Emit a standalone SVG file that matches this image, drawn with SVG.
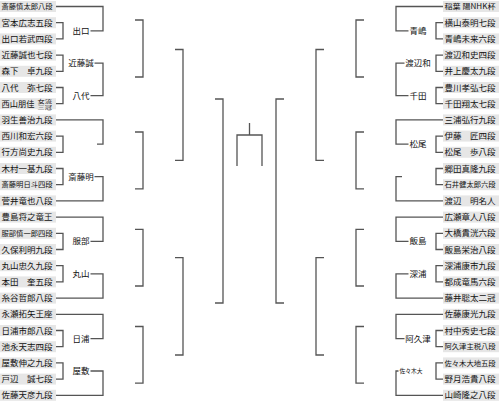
<svg xmlns="http://www.w3.org/2000/svg" width="499" height="402" viewBox="0 0 499 402">
<style>
.bx{fill:#e6e6e6}
.t{font-family:"Noto Sans CJK JP","Noto Sans CJK SC",sans-serif;font-size:8.5px;fill:#111}
.s{font-size:7.3px}
.w{text-anchor:middle}
.ln{fill:none;stroke:#555;stroke-width:1.3}
</style>
<rect width="499" height="402" fill="#fff"/>
<g id="connectors" class="ln">
<path d="M56,22.7H63V38.9H56M56,55.1H63V71.3H56M56,87.5H63V103.7H56M56,136.1H63V152.3H56M56,168.5H63V184.7H56M56,233.3H63V249.5H56M56,265.7H63V281.9H56M56,330.5H63V346.7H56M56,362.9H63V379.1H56"/>
<path d="M56,6.5H103V30.8H90.5M94.5,63.2H103V95.6H90.5M56,119.9H103V144.2H97M94.5,176.6H103V200.9H56M56,217.1H103V241.4H90.5M90.5,273.8H103V298.1H56M56,314.3H103V338.6H90.5M90.5,371H103V395.3H56"/>
<path d="M135,20H143V77H135M135,132H143V188.8H135M135,229.3H143V286H135M135,326.5H143V383.2H135"/>
<path d="M175,49.5H183V160.4H175M175,257.6H183V355H175"/>
<path d="M215,99H223V303H215"/>
<path d="M237,166V135H262V166M249.5,135V123"/>
<path d="M284,99H276V303H284"/>
<path d="M324,49.5H316V160.4H324M324,257.6H316V355H324"/>
<path d="M364,20H356V77H364M364,132H356V188.8H364M364,229.3H356V286H364M364,326.5H356V383.2H364"/>
<path d="M443,6.5H396V30.8H408.5M404.5,63.2H396V95.6H408.5M443,119.9H396V144.2H408.5M402,176.6H396V200.9H443M443,217.1H396V241.4H408.5M408.5,273.8H396V298.1H443M443,314.3H396V338.6H404.5M398.5,371H396V395.3H443"/>
<path d="M443,22.7H436V38.9H443M443,55.1H436V71.3H443M443,87.5H436V103.7H443M443,136.1H436V152.3H443M443,168.5H436V184.7H443M443,233.3H436V249.5H443M443,265.7H436V281.9H443M443,330.5H436V346.7H443M443,362.9H436V379.1H443"/>
</g>
<g id="left-players">
<g id="p-saito-s"><rect class="bx" x="0" y="1" width="56" height="11"/><text class="t s" x="1.5" y="9.1">斎藤慎太郎八段</text></g>
<g id="p-miyamoto"><rect class="bx" x="0" y="17.2" width="56" height="11"/><text class="t" x="1.5" y="25.7">宮本広志五段</text></g>
<g id="p-deguchi"><rect class="bx" x="0" y="33.4" width="56" height="11"/><text class="t" x="1.5" y="41.9">出口若武四段</text></g>
<g id="p-kondo"><rect class="bx" x="0" y="49.6" width="56" height="11"/><text class="t" x="1.5" y="58.1">近藤誠也七段</text></g>
<g id="p-morishita"><rect class="bx" x="0" y="65.8" width="56" height="11"/><text class="t" x="1.5" y="74.3">森下　卓九段</text></g>
<g id="p-yashiro"><rect class="bx" x="0" y="82" width="56" height="11"/><text class="t" x="1.5" y="90.5">八代　弥七段</text></g>
<g id="p-nishiyama"><rect class="bx" x="0" y="98.2" width="56" height="11"/><text class="t" x="1.5" y="106.7" textLength="33" lengthAdjust="spacingAndGlyphs">西山朋佳</text><text class="t" style="font-size:4.9px"><tspan x="37.5" y="102.7" textLength="14.5" lengthAdjust="spacingAndGlyphs">女流</tspan><tspan x="37.5" y="108.7" textLength="14.5" lengthAdjust="spacingAndGlyphs">三冠</tspan></text></g>
<g id="p-habu"><rect class="bx" x="0" y="114.4" width="56" height="11"/><text class="t" x="1.5" y="122.9">羽生善治九段</text></g>
<g id="p-nishikawa"><rect class="bx" x="0" y="130.6" width="56" height="11"/><text class="t" x="1.5" y="139.1">西川和宏六段</text></g>
<g id="p-namekata"><rect class="bx" x="0" y="146.8" width="56" height="11"/><text class="t" x="1.5" y="155.3">行方尚史九段</text></g>
<g id="p-kimura"><rect class="bx" x="0" y="163" width="56" height="11"/><text class="t" x="1.5" y="171.5">木村一基九段</text></g>
<g id="p-saito-a"><rect class="bx" x="0" y="179.2" width="56" height="11"/><text class="t s" x="1.5" y="187.3">斎藤明日斗四段</text></g>
<g id="p-sugai"><rect class="bx" x="0" y="195.4" width="56" height="11"/><text class="t" x="1.5" y="203.9">菅井竜也八段</text></g>
<g id="p-toyoshima"><rect class="bx" x="0" y="211.6" width="56" height="11"/><text class="t" x="1.5" y="220.1">豊島将之竜王</text></g>
<g id="p-hattori"><rect class="bx" x="0" y="227.8" width="56" height="11"/><text class="t s" x="1.5" y="235.9">服部慎一郎四段</text></g>
<g id="p-kubo"><rect class="bx" x="0" y="244" width="56" height="11"/><text class="t" x="1.5" y="252.5">久保利明九段</text></g>
<g id="p-maruyama"><rect class="bx" x="0" y="260.2" width="56" height="11"/><text class="t" x="1.5" y="268.7">丸山忠久九段</text></g>
<g id="p-honda"><rect class="bx" x="0" y="276.4" width="56" height="11"/><text class="t" x="1.5" y="284.9">本田　奎五段</text></g>
<g id="p-itodani"><rect class="bx" x="0" y="292.6" width="56" height="11"/><text class="t" x="1.5" y="301.1">糸谷哲郎八段</text></g>
<g id="p-nagase"><rect class="bx" x="0" y="308.8" width="56" height="11"/><text class="t" x="1.5" y="317.3">永瀬拓矢王座</text></g>
<g id="p-hiura"><rect class="bx" x="0" y="325" width="56" height="11"/><text class="t" x="1.5" y="333.5">日浦市郎八段</text></g>
<g id="p-ikenaga"><rect class="bx" x="0" y="341.2" width="56" height="11"/><text class="t" x="1.5" y="349.7">池永天志四段</text></g>
<g id="p-yashiki"><rect class="bx" x="0" y="357.4" width="56" height="11"/><text class="t" x="1.5" y="365.9">屋敷伸之九段</text></g>
<g id="p-tobe"><rect class="bx" x="0" y="373.6" width="56" height="11"/><text class="t" x="1.5" y="382.1">戸辺　誠七段</text></g>
<g id="p-sato-a"><rect class="bx" x="0" y="389.8" width="56" height="11"/><text class="t" x="1.5" y="398.3">佐藤天彦九段</text></g>
</g>
<g id="left-winners">
<g id="w-deguchi"><text class="t w" x="81" y="33.8">出口</text></g>
<g id="w-kondo"><text class="t w" x="81" y="66.2">近藤誠</text></g>
<g id="w-yashiro"><text class="t w" x="81" y="98.6">八代</text></g>
<g id="w-saito-a"><text class="t w" x="81" y="179.6">斎藤明</text></g>
<g id="w-hattori"><text class="t w" x="81" y="244.4">服部</text></g>
<g id="w-maruyama"><text class="t w" x="81" y="276.8">丸山</text></g>
<g id="w-hiura"><text class="t w" x="81" y="341.6">日浦</text></g>
<g id="w-yashiki"><text class="t w" x="81" y="374">屋敷</text></g>
</g>
<g id="right-players">
<g id="p-inaba"><rect class="bx" x="443" y="1" width="56" height="11"/><text class="t s" x="444.5" y="9.1" textLength="51" lengthAdjust="spacingAndGlyphs">稲葉 陽NHK杯</text></g>
<g id="p-yokoyama"><rect class="bx" x="443" y="17.2" width="56" height="11"/><text class="t" x="444.5" y="25.7">横山泰明七段</text></g>
<g id="p-aoshima"><rect class="bx" x="443" y="33.4" width="56" height="11"/><text class="t" x="444.5" y="41.9">青嶋未来六段</text></g>
<g id="p-watanabe-k"><rect class="bx" x="443" y="49.6" width="56" height="11"/><text class="t" x="444.5" y="58.1">渡辺和史四段</text></g>
<g id="p-inoue"><rect class="bx" x="443" y="65.8" width="56" height="11"/><text class="t" x="444.5" y="74.3">井上慶太九段</text></g>
<g id="p-toyokawa"><rect class="bx" x="443" y="82" width="56" height="11"/><text class="t" x="444.5" y="90.5">豊川孝弘七段</text></g>
<g id="p-senda"><rect class="bx" x="443" y="98.2" width="56" height="11"/><text class="t" x="444.5" y="106.7">千田翔太七段</text></g>
<g id="p-miura"><rect class="bx" x="443" y="114.4" width="56" height="11"/><text class="t" x="444.5" y="122.9">三浦弘行九段</text></g>
<g id="p-ito"><rect class="bx" x="443" y="130.6" width="56" height="11"/><text class="t" x="444.5" y="139.1">伊藤　匠四段</text></g>
<g id="p-matsuo"><rect class="bx" x="443" y="146.8" width="56" height="11"/><text class="t" x="444.5" y="155.3">松尾　歩八段</text></g>
<g id="p-goda"><rect class="bx" x="443" y="163" width="56" height="11"/><text class="t" x="444.5" y="171.5">郷田真隆九段</text></g>
<g id="p-ishii"><rect class="bx" x="443" y="179.2" width="56" height="11"/><text class="t s" x="444.5" y="187.3">石井健太郎六段</text></g>
<g id="p-watanabe-a"><rect class="bx" x="443" y="195.4" width="56" height="11"/><text class="t" x="444.5" y="203.9">渡辺　明名人</text></g>
<g id="p-hirose"><rect class="bx" x="443" y="211.6" width="56" height="11"/><text class="t" x="444.5" y="220.1">広瀬章人八段</text></g>
<g id="p-ohashi"><rect class="bx" x="443" y="227.8" width="56" height="11"/><text class="t" x="444.5" y="236.3">大橋貴洸六段</text></g>
<g id="p-iijima"><rect class="bx" x="443" y="244" width="56" height="11"/><text class="t" x="444.5" y="252.5">飯島栄治八段</text></g>
<g id="p-fukaura"><rect class="bx" x="443" y="260.2" width="56" height="11"/><text class="t" x="444.5" y="268.7">深浦康市九段</text></g>
<g id="p-tonari"><rect class="bx" x="443" y="276.4" width="56" height="11"/><text class="t" x="444.5" y="284.9">都成竜馬六段</text></g>
<g id="p-fujii"><rect class="bx" x="443" y="292.6" width="56" height="11"/><text class="t" x="444.5" y="301.1">藤井聡太二冠</text></g>
<g id="p-sato-y"><rect class="bx" x="443" y="308.8" width="56" height="11"/><text class="t" x="444.5" y="317.3">佐藤康光九段</text></g>
<g id="p-muranaka"><rect class="bx" x="443" y="325" width="56" height="11"/><text class="t" x="444.5" y="333.5">村中秀史七段</text></g>
<g id="p-akutsu"><rect class="bx" x="443" y="341.2" width="56" height="11"/><text class="t s" x="444.5" y="349.3">阿久津主税八段</text></g>
<g id="p-sasaki"><rect class="bx" x="443" y="357.4" width="56" height="11"/><text class="t s" x="444.5" y="365.5">佐々木大地五段</text></g>
<g id="p-nozuki"><rect class="bx" x="443" y="373.6" width="56" height="11"/><text class="t" x="444.5" y="382.1">野月浩貴八段</text></g>
<g id="p-yamasaki"><rect class="bx" x="443" y="389.8" width="56" height="11"/><text class="t" x="444.5" y="398.3">山崎隆之八段</text></g>
</g>
<g id="right-winners">
<g id="w-aoshima"><text class="t w" x="418" y="33.8">青嶋</text></g>
<g id="w-watanabe-k"><text class="t w" x="418" y="66.2">渡辺和</text></g>
<g id="w-senda"><text class="t w" x="418" y="98.6">千田</text></g>
<g id="w-matsuo"><text class="t w" x="418" y="147.2">松尾</text></g>
<g id="w-iijima"><text class="t w" x="418" y="244.4">飯島</text></g>
<g id="w-fukaura"><text class="t w" x="418" y="276.8">深浦</text></g>
<g id="w-akutsu"><text class="t w" x="418" y="341.6">阿久津</text></g>
<g id="w-sasaki"><text class="t" x="399.5" y="373.2" style="font-size:6.2px" textLength="23" lengthAdjust="spacingAndGlyphs">佐々木大</text></g>
</g>
</svg>
